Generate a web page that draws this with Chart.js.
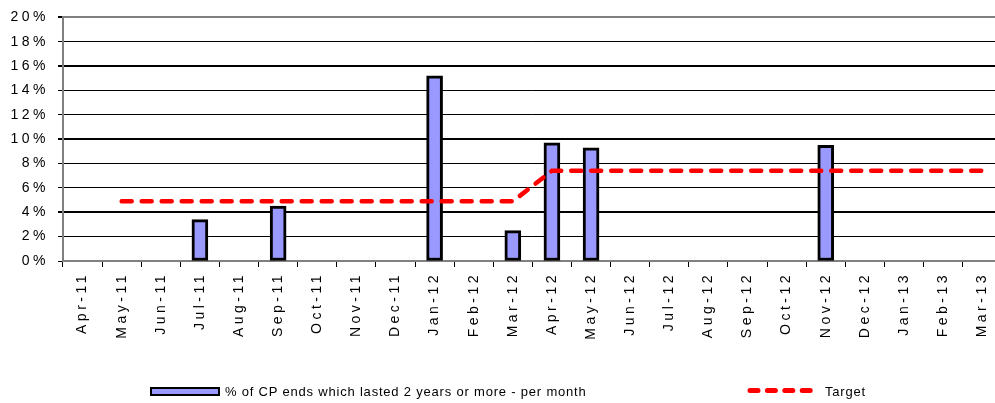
<!DOCTYPE html>
<html>
<head>
<meta charset="utf-8">
<script src="https://cdn.jsdelivr.net/npm/chart.js@4.4.1/dist/chart.umd.min.js"></script>
<style>
  html, body { margin: 0; padding: 0; background: #fff; overflow: hidden; }
  #wrap { position: relative; width: 995px; height: 403px; overflow: hidden; }
  #chart { position: absolute; left: 0; top: 0; }
  .lg { position: absolute; font: 13px "Liberation Sans", Arial, sans-serif; line-height: 15px;
        letter-spacing: 0.8px; color: #000; white-space: nowrap; }
  .lg-box { position: absolute; left: 150px; top: 387px; width: 70px; height: 9px;
            box-sizing: border-box; border: 2px solid #000; background: #9999ff; }
  .lg-line { position: absolute; left: 747px; top: 387px; }
</style>
</head>
<body>
<div id="wrap">
  <canvas id="chart" width="1004" height="403"></canvas>
  <div class="lg-box"></div>
  <div class="lg" style="left:225px; top:384px;">% of CP ends which lasted 2 years or more - per month</div>
  <svg class="lg-line" width="72" height="7">
    <line x1="3" y1="3.5" x2="69" y2="3.5" stroke="#ff0000" stroke-width="5"
          stroke-linecap="round" stroke-dasharray="8 9.4"/>
  </svg>
  <div class="lg" style="left:825px; top:384px;">Target</div>
</div>
<script>
// months on the x axis
const months = [
    'Apr-11', 'May-11', 'Jun-11', 'Jul-11', 'Aug-11', 'Sep-11',
    'Oct-11', 'Nov-11', 'Dec-11', 'Jan-12', 'Feb-12', 'Mar-12',
    'Apr-12', 'May-12', 'Jun-12', 'Jul-12', 'Aug-12', 'Sep-12',
    'Oct-12', 'Nov-12', 'Dec-12', 'Jan-13', 'Feb-13', 'Mar-13'
];

// % of CP ends which lasted 2 years or more (per month)
const cpEnds = [
    null, null, null, 3.4, null, 4.5,
    null, null, null, 15.2, null, 2.5,
    9.7, 9.3, null, null, null, null,
    null, 9.5, null, null, null, null
];

// target level
const target = [
    null, 4.9, 4.9, 4.9, 4.9, 4.9,
    4.9, 4.9, 4.9, 4.9, 4.9, 4.9,
    7.4, 7.4, 7.4, 7.4, 7.4, 7.4,
    7.4, 7.4, 7.4, 7.4, 7.4, 7.4
];

const yTicks = [0, 2, 4, 6, 8, 10, 12, 14, 16, 18, 20];

// the original text is drawn spread out, so widen the letters a bit
const letterSpacing = {
    id: 'letterSpacing',
    beforeUpdate(chart) { chart.ctx.letterSpacing = '3.5px'; },
    beforeDraw(chart) { chart.ctx.letterSpacing = '3.5px'; }
};

const tickFont = { family: '"Liberation Sans", Arial, sans-serif', size: 14 };

new Chart(document.getElementById('chart'), {
    type: 'bar',
    data: {
        labels: months,
        datasets: [
            {
                type: 'line',
                label: 'Target',
                data: target,
                borderColor: '#ff0000',
                borderWidth: 4.5,
                borderDash: [10, 10],
                borderCapStyle: 'round',
                pointRadius: 0,
                tension: 0,
                fill: false,
                order: 0
            },
            {
                label: '% of CP ends which lasted 2 years or more - per month',
                data: cpEnds,
                backgroundColor: '#9999ff',
                borderColor: '#000000',
                borderWidth: 3,
                borderSkipped: false,
                barThickness: 16,
                order: 1
            }
        ]
    },
    options: {
        responsive: false,
        animation: false,
        layout: { padding: { top: 17, left: 0, right: 0, bottom: 0 } },
        plugins: {
            legend: { display: false },
            tooltip: { enabled: false }
        },
        scales: {
            x: {
                afterFit: (s) => { s.height = 142; },
                border: { color: '#808080', width: 2 },
                grid: {
                    drawOnChartArea: false,
                    drawTicks: true,
                    tickLength: 6,
                    color: '#000'
                },
                ticks: {
                    autoSkip: false,
                    minRotation: 90,
                    maxRotation: 90,
                    padding: 5,
                    color: '#000',
                    font: tickFont
                }
            },
            y: {
                min: 0,
                max: 20,
                afterFit: (s) => { s.width = 63; },
                afterBuildTicks: (s) => { s.ticks = yTicks.map(v => ({ value: v })); },
                border: { color: '#808080', width: 2 },
                grid: {
                    color: (c) => c.tick && c.tick.value === 20 ? '#808080' : '#000',
                    lineWidth: (c) => {
                        if (!c.tick) return 1;
                        return [4, 10, 16, 20].includes(c.tick.value) ? 2 : 1;
                    },
                    tickColor: '#000',
                    tickLength: 5
                },
                ticks: {
                    padding: 9,
                    color: '#000',
                    font: tickFont,
                    callback: (v) => v + '%'
                }
            }
        }
    },
    plugins: [letterSpacing]
});
</script>
</body>
</html>
